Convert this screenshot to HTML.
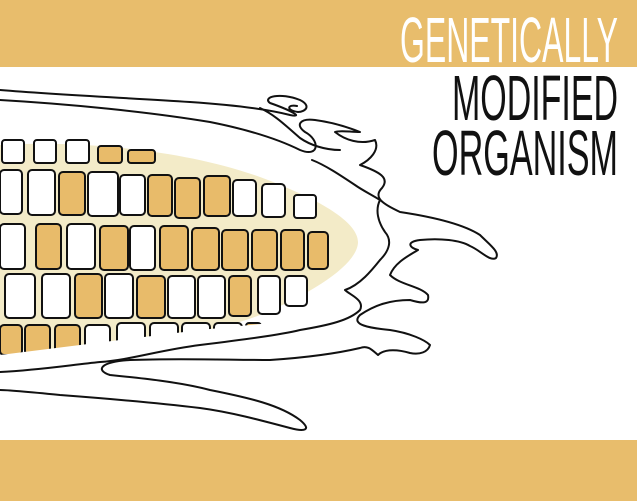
<!DOCTYPE html>
<html><head><meta charset="utf-8"><style>
html,body{margin:0;padding:0;background:#fff;}
svg{display:block;}
text{font-family:"Liberation Sans Narrow","Liberation Sans",sans-serif;}
</style></head><body>
<svg width="637" height="501" viewBox="0 0 637 501" xmlns="http://www.w3.org/2000/svg">
<rect x="0" y="0" width="637" height="67" fill="#e8bd6c"/>
<rect x="0" y="440" width="637" height="61" fill="#e8bd6c"/>
<text x="618" y="62" text-anchor="end" font-size="64" fill="#fff" textLength="218" lengthAdjust="spacingAndGlyphs" font-weight="normal">GENETICALLY</text>
<text x="618" y="120" text-anchor="end" font-size="64" fill="#111" textLength="166" lengthAdjust="spacingAndGlyphs">MODIFIED</text>
<text x="618" y="175" text-anchor="end" font-size="64" fill="#111" textLength="186" lengthAdjust="spacingAndGlyphs">ORGANISM</text>
<!-- cob -->
<path d="M0 145 C80 140 200 150 280 185 C330 205 358 225 358 242 C358 262 320 290 260 315 C180 345 80 350 0 350 Z" fill="#f3ebc8"/>
<g stroke="#111" stroke-width="2" stroke-linejoin="round">
<!-- row1 -->
<rect x="2" y="140" width="22" height="23" rx="3" fill="#fff"/>
<rect x="34" y="140" width="22" height="23" rx="3" fill="#fff"/>
<rect x="66" y="140" width="23" height="23" rx="3" fill="#fff"/>
<rect x="98" y="146" width="24" height="17" rx="3" fill="#e8bb6a"/>
<rect x="128" y="150" width="27" height="13" rx="3" fill="#e8bb6a"/>
<!-- row2 -->
<rect x="0" y="170" width="22" height="44" rx="4" fill="#fff"/>
<rect x="28" y="170" width="27" height="45" rx="4" fill="#fff"/>
<rect x="59" y="172" width="26" height="43" rx="4" fill="#e8bb6a"/>
<rect x="88" y="172" width="30" height="44" rx="4" fill="#fff"/>
<rect x="120" y="175" width="25" height="40" rx="4" fill="#fff"/>
<rect x="148" y="175" width="24" height="41" rx="4" fill="#e8bb6a"/>
<rect x="175" y="178" width="25" height="40" rx="4" fill="#e8bb6a"/>
<rect x="204" y="176" width="26" height="40" rx="4" fill="#e8bb6a"/>
<rect x="233" y="180" width="23" height="36" rx="4" fill="#fff"/>
<rect x="262" y="184" width="23" height="33" rx="4" fill="#fff"/>
<rect x="294" y="195" width="22" height="23" rx="3" fill="#fff"/>
<!-- row3 -->
<rect x="0" y="224" width="25" height="45" rx="4" fill="#fff"/>
<rect x="36" y="224" width="25" height="45" rx="4" fill="#e8bb6a"/>
<rect x="67" y="224" width="28" height="45" rx="4" fill="#fff"/>
<rect x="100" y="226" width="28" height="44" rx="4" fill="#e8bb6a"/>
<rect x="130" y="226" width="25" height="44" rx="4" fill="#fff"/>
<rect x="160" y="226" width="28" height="44" rx="4" fill="#e8bb6a"/>
<rect x="192" y="228" width="27" height="42" rx="4" fill="#e8bb6a"/>
<rect x="222" y="230" width="26" height="40" rx="4" fill="#e8bb6a"/>
<rect x="252" y="230" width="25" height="40" rx="4" fill="#e8bb6a"/>
<rect x="281" y="230" width="23" height="40" rx="4" fill="#e8bb6a"/>
<rect x="308" y="232" width="20" height="37" rx="4" fill="#e8bb6a"/>
<!-- row4 -->
<rect x="5" y="274" width="30" height="44" rx="4" fill="#fff"/>
<rect x="42" y="274" width="28" height="44" rx="4" fill="#fff"/>
<rect x="75" y="274" width="27" height="44" rx="4" fill="#e8bb6a"/>
<rect x="105" y="274" width="28" height="44" rx="4" fill="#fff"/>
<rect x="137" y="276" width="28" height="42" rx="4" fill="#e8bb6a"/>
<rect x="168" y="276" width="27" height="42" rx="4" fill="#fff"/>
<rect x="198" y="276" width="27" height="42" rx="4" fill="#fff"/>
<rect x="229" y="276" width="22" height="40" rx="4" fill="#e8bb6a"/>
<rect x="258" y="276" width="22" height="38" rx="4" fill="#fff"/>
<rect x="285" y="276" width="22" height="30" rx="4" fill="#fff"/>
<!-- row5 -->
<rect x="0" y="325" width="22" height="30" rx="4" fill="#e8bb6a"/>
<rect x="25" y="325" width="25" height="30" rx="4" fill="#e8bb6a"/>
<rect x="55" y="325" width="25" height="30" rx="4" fill="#e8bb6a"/>
<rect x="85" y="325" width="25" height="30" rx="4" fill="#fff"/>
<rect x="117" y="323" width="28" height="30" rx="4" fill="#fff"/>
<rect x="150" y="323" width="28" height="28" rx="4" fill="#fff"/>
<rect x="182" y="323" width="28" height="26" rx="4" fill="#fff"/>
<rect x="214" y="323" width="28" height="22" rx="4" fill="#fff"/>
<rect x="246" y="323" width="15" height="14" rx="3" fill="#e8bb6a"/>
</g>
<!-- white husk masks -->
<path d="M0 88 C80 100 200 110 300 150 L360 180 L395 215 L370 250 L395 300 L330 340 L200 352 L60 360 L0 360 L0 440 L330 440 L330 415 L200 380 L110 375 L300 350 L420 345 L400 320 L345 300 L390 270 L410 235 L380 200 L360 160 L330 130 L300 120 L250 110 L180 100 L60 90 Z" fill="none"/>
<path d="M0 355 L120 340 L200 330 L300 320 L330 330 L290 345 L150 355 L60 362 L0 362 Z" fill="#fff"/>
<path d="M150 140 C230 160 300 170 330 180 L300 165 L200 140 Z" fill="#fff"/>
<g fill="none" stroke="#111" stroke-width="2" stroke-linejoin="round" stroke-linecap="round">
<path d="M0 90 C60 95 130 98 190 102 C235 105 270 110 290 115 C305 118 290 110 270 103 C262 97 280 92 300 100 C312 106 305 112 298 112 C285 110 288 104 297 106"/>
<path d="M0 100 C70 104 150 112 210 122 C250 130 280 140 300 150 C320 158 320 140 305 132 C295 125 300 118 315 120 C330 122 345 126 360 132 C350 132 340 130 335 132 C345 140 360 145 375 140 C380 150 370 160 360 165 C380 172 390 178 382 188 C372 198 385 205 400 212 C420 215 460 222 480 235 C490 245 500 252 496 258 C490 262 480 250 470 246 C460 240 440 238 420 240 C405 242 410 248 418 250 C410 255 395 262 390 275 C400 285 420 286 428 295 C430 305 420 303 410 300 C390 300 375 305 360 315 C350 325 370 328 390 330 C410 333 425 340 430 345 C428 352 420 355 410 353 C400 350 385 348 378 355 C372 350 368 345 360 348 C330 355 300 358 270 360 C230 360 180 358 130 360 C100 362 95 370 110 375 C140 378 180 382 210 390 C250 398 280 405 300 420 C312 430 305 432 290 428 C260 420 230 412 200 408 C150 402 100 398 60 395 C30 392 10 390 0 390"/>
<path d="M0 372 C40 370 70 365 100 362 C130 360 160 350 200 345 C240 340 280 335 300 330 C330 325 350 320 360 310 C365 300 350 295 345 290 C360 285 372 270 380 260 C390 250 392 240 385 232 C378 222 375 210 380 200 C372 195 362 190 355 185 C340 175 325 165 312 160"/>
<path d="M260 108 C275 115 285 125 300 138 C310 145 325 150 340 150"/>
</g>
</svg>
</body></html>
